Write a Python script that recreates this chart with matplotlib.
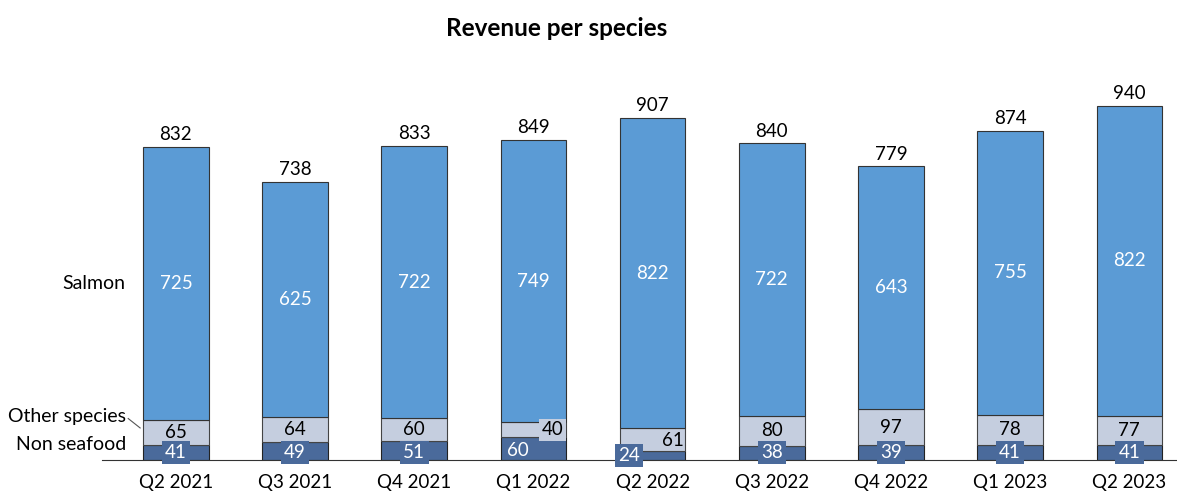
import matplotlib.pyplot as plt
import numpy as np

plt.rcParams['font.family'] = ['Lato', 'DejaVu Sans']

quarters = ["Q2 2021", "Q3 2021", "Q4 2021", "Q1 2022", "Q2 2022",
            "Q3 2022", "Q4 2022", "Q1 2023", "Q2 2023"]
non_seafood = [41, 49, 51, 60, 24, 38, 39, 41, 41]
other_species = [65, 64, 60, 40, 61, 80, 97, 78, 77]
salmon = [725, 625, 722, 749, 822, 722, 643, 755, 822]
totals = [832, 738, 833, 849, 907, 840, 779, 874, 940]

c_salmon = "#5B9BD5"
c_other = "#C5CEDF"
c_non = "#4A6A9B"

W, H = 1177, 493
fig = plt.figure(figsize=(W / 100, H / 100), dpi=100)
ax = fig.add_axes([102 / W, 33 / H, 1 - 102 / W, 400 / H])

x = np.arange(len(quarters))
ns = np.array(non_seafood)
os_ = np.array(other_species)
sa = np.array(salmon)
bw = 0.55
ax.bar(x, ns, bw, color=c_non, edgecolor="#222222", linewidth=0.8)
ax.bar(x, os_, bw, bottom=ns, color=c_other, edgecolor="#444444", linewidth=0.8)
ax.bar(x, sa, bw, bottom=ns + os_, color=c_salmon, edgecolor="#333333", linewidth=0.8)

ax.set_xlim(-0.62, 8.4)
ax.set_ylim(0, 400 / 0.377)

fs = 13.5
for i in range(len(x)):
    top = ns[i] + os_[i] + sa[i]
    ax.text(x[i], top + 10, str(totals[i]), ha="center", va="bottom", fontsize=fs)
    ax.text(x[i], ns[i] + os_[i] + sa[i] / 2, str(salmon[i]), ha="center",
            va="center", fontsize=fs, color="white")
    # other species label
    if i == 3:
        ax.text(x[i] + 0.16, 80, str(other_species[i]),
                ha="center", va="center", fontsize=fs,
                bbox=dict(boxstyle="square,pad=0.15", fc=c_other, ec="none"))
    elif i == 4:
        ax.text(x[i] + 0.17, ns[i] + 28, str(other_species[i]),
                ha="center", va="center", fontsize=fs)
    else:
        ax.text(x[i], ns[i] + os_[i] / 2, str(other_species[i]),
                ha="center", va="center", fontsize=fs)
    # non seafood label
    if i == 3:
        ax.text(x[i] - 0.13, 26, str(non_seafood[i]), ha="center",
                va="center", fontsize=fs, color="white")
    elif i == 4:
        ax.text(x[i] - 0.2, 12, str(non_seafood[i]), ha="center",
                va="center", fontsize=fs, color="white",
                bbox=dict(boxstyle="square,pad=0.18", fc=c_non, ec="none"))
    else:
        ax.text(x[i], 20, str(non_seafood[i]), ha="center", va="center",
                fontsize=fs, color="white",
                bbox=dict(boxstyle="square,pad=0.18", fc=c_non, ec="none"))

# series names on the left
ax.text(-0.42, ns[0] + os_[0] + sa[0] / 2, "Salmon", ha="right", va="center", fontsize=14)
ax.text(-0.42, 115, "Other species", ha="right", va="center", fontsize=14)
ax.plot([-0.4, -0.3], [110, 85], color="#555555", linewidth=0.8, clip_on=False)
ax.text(-0.42, 40, "Non seafood", ha="right", va="center", fontsize=14)

for s in ["top", "right", "left"]:
    ax.spines[s].set_visible(False)
ax.spines["bottom"].set_color("#333333")
ax.set_yticks([])
ax.set_xticks(x)
ax.set_xticklabels(quarters, fontsize=fs)
ax.tick_params(axis="x", length=0, pad=10)

fig.text(557 / W, 1 - 28 / H, "Revenue per species", ha="center", va="center",
         fontsize=17.5, fontweight="bold")

fig.savefig("out.png", dpi=100)
